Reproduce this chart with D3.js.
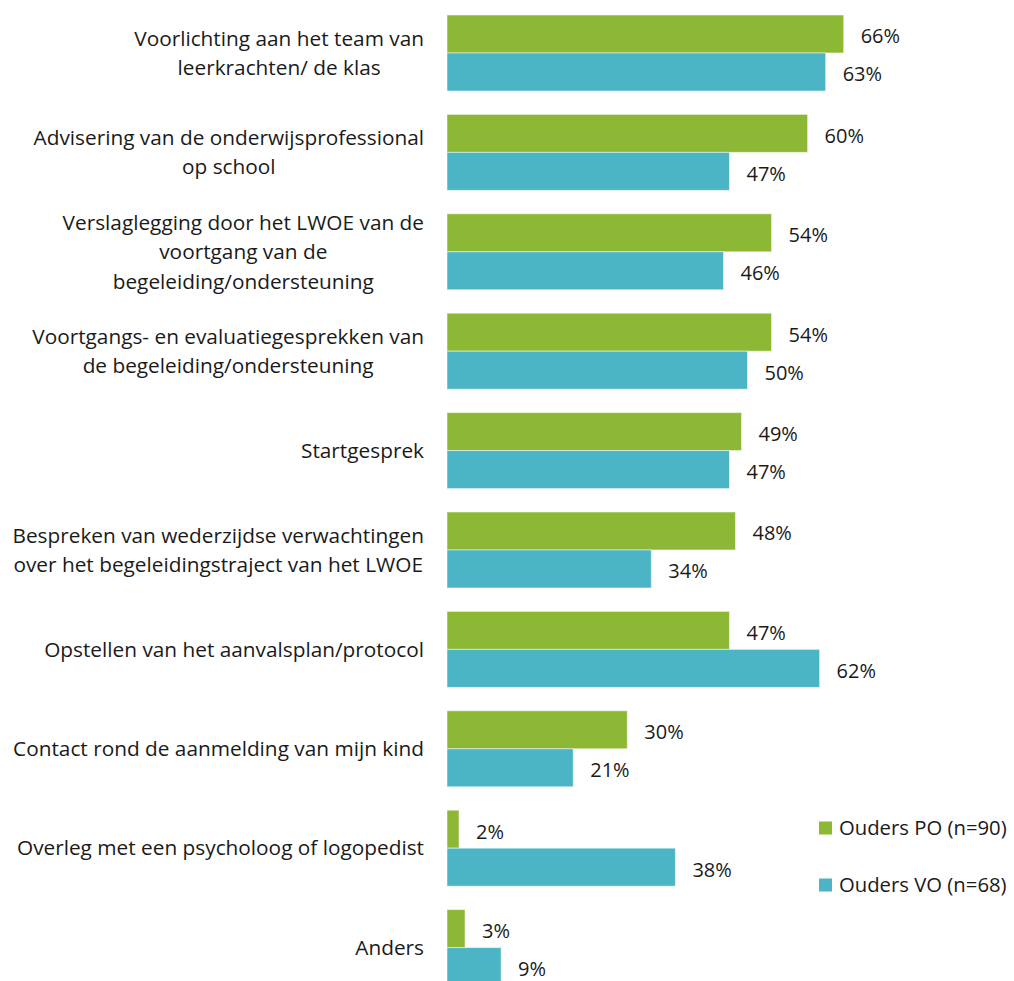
<!DOCTYPE html>
<html>
<head>
<meta charset="utf-8">
<script src="https://cdn.jsdelivr.net/npm/d3@7"></script>
<style>
  body { margin: 0; background: #fff; overflow: hidden; }
  svg { display: block; }
  svg text { font-family: "Open Sans", "Noto Sans", sans-serif; fill: #1a1a1a; }
</style>
</head>
<body>
<div id="chart"></div>
<script>
// categories, line breaks as in the original chart
const categories = [
  "Voorlichting aan het team van\nleerkrachten/ de klas",
  "Advisering van de onderwijsprofessional\nop school",
  "Verslaglegging door het LWOE van de\nvoortgang van de\nbegeleiding/ondersteuning",
  "Voortgangs- en evaluatiegesprekken van\nde begeleiding/ondersteuning",
  "Startgesprek",
  "Bespreken van wederzijdse verwachtingen\nover het begeleidingstraject van het LWOE",
  "Opstellen van het aanvalsplan/protocol",
  "Contact rond de aanmelding van mijn kind",
  "Overleg met een psycholoog of logopedist",
  "Anders"
];
const seriesNames = ["Ouders PO (n=90)", "Ouders VO (n=68)"];
const valuesPO = [66, 60, 54, 54, 49, 48, 47, 30, 2, 3];
const valuesVO = [63, 47, 46, 50, 47, 34, 62, 21, 38, 9];
const colors = ["#8db836", "#4bb4c5"];

const W = 1014, H = 981;
const labelRight = 424;   // right edge of category labels
const x0 = 447;           // left edge of the bars

const svg = d3.select("#chart").append("svg")
    .attr("width", W)
    .attr("height", H);

const data = categories.map((c, i) => ({cat: c, vals: [valuesPO[i], valuesVO[i]]}));

// category bands (step ~99.4px, bars 2 x 38px); last group runs past the bottom edge as in the original
const y = d3.scaleBand()
    .domain(categories)
    .range([3.07, 997.5])
    .paddingInner(0.2357)
    .paddingOuter(0.12);

// series within a band
const ys = d3.scaleBand()
    .domain([0, 1])
    .range([0, y.bandwidth()]);

const x = d3.scaleLinear()
    .domain([0, 100])
    .range([0, 601]);

const groups = svg.selectAll("g.cat")
    .data(data)
    .enter().append("g")
    .attr("class", "cat")
    .attr("transform", d => `translate(0,${y(d.cat)})`);

// bars
groups.selectAll("rect")
    .data(d => d.vals.map((v, s) => ({v: v, s: s})))
    .enter().append("rect")
    .attr("x", x0)
    .attr("y", d => ys(d.s))
    .attr("width", d => x(d.v))
    .attr("height", ys.bandwidth())
    .attr("fill", d => colors[d.s])
    .attr("stroke", "#ffffff")
    .attr("stroke-opacity", 0.5)
    .attr("stroke-width", 1);

// value labels (sit slightly below the bar middle, like the original)
groups.selectAll("text.val")
    .data(d => d.vals.map((v, s) => ({v: v, s: s})))
    .enter().append("text")
    .attr("class", "val")
    .attr("x", d => x0 + x(d.v) + 17)
    .attr("y", d => ys(d.s) + ys.bandwidth() / 2 + 2.5)
    .attr("dy", "0.35em")
    .style("font-size", "20px")
    .text(d => d.v + "%");

// category labels (multi-line, centered block, right aligned to labelRight)
const lineH = 29.5;
groups.append("text")
    .attr("class", "cat-label")
    .attr("text-anchor", "middle")
    .style("font-size", "20.8px")
    .each(function(d) {
        const lines = d.cat.split("\n");
        const t = d3.select(this);
        lines.forEach((ln, k) => {
            t.append("tspan")
                .attr("x", labelRight)
                .attr("y", y.bandwidth() / 2 + (k - (lines.length - 1) / 2) * lineH)
                .attr("dy", "0.35em")
                .text(ln);
        });
    });

svg.selectAll("text.cat-label").each(function() {
    const spans = d3.select(this).selectAll("tspan");
    const maxW = d3.max(spans.nodes(), s => s.getComputedTextLength());
    spans.attr("x", labelRight - maxW / 2);
});

// legend
const legend = svg.append("g").attr("transform", "translate(819,0)");
seriesNames.forEach((name, i) => {
    const ly = 828 + i * 57;
    legend.append("rect")
        .attr("x", 0)
        .attr("y", ly - 6.5)
        .attr("width", 13)
        .attr("height", 13)
        .attr("fill", colors[i]);
    legend.append("text")
        .attr("x", 20)
        .attr("y", ly)
        .attr("dy", "0.35em")
        .style("font-size", "20.3px")
        .text(name);
});
</script>
</body>
</html>
